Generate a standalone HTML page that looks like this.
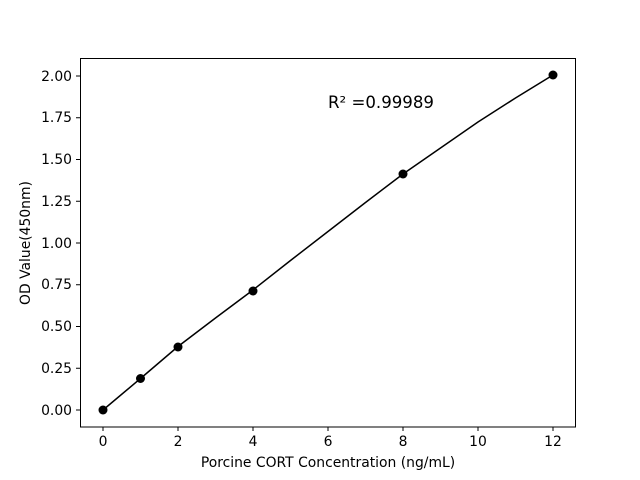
<!DOCTYPE html>
<html><head><meta charset="utf-8"><style>body{margin:0;background:#fff}svg{display:block}text{font-family:"DejaVu Sans","Liberation Sans",sans-serif;font-size:13.9px;fill:#000}</style></head>
<body>
<svg width="640" height="480" viewBox="0 0 640 480" xmlns="http://www.w3.org/2000/svg">
<rect x="80.5" y="58.5" width="495" height="368.5" fill="none" stroke="#000" stroke-width="1"/>
<g stroke="#000" stroke-width="1">
<line x1="103" y1="427" x2="103" y2="431"/><line x1="178" y1="427" x2="178" y2="431"/><line x1="253" y1="427" x2="253" y2="431"/><line x1="328" y1="427" x2="328" y2="431"/><line x1="403" y1="427" x2="403" y2="431"/><line x1="478" y1="427" x2="478" y2="431"/><line x1="553" y1="427" x2="553" y2="431"/>
<line x1="76" y1="410" x2="80" y2="410"/><line x1="76" y1="368.25" x2="80" y2="368.25"/><line x1="76" y1="326.5" x2="80" y2="326.5"/><line x1="76" y1="284.75" x2="80" y2="284.75"/><line x1="76" y1="243" x2="80" y2="243"/><line x1="76" y1="201.25" x2="80" y2="201.25"/><line x1="76" y1="159.5" x2="80" y2="159.5"/><line x1="76" y1="117.75" x2="80" y2="117.75"/><line x1="76" y1="76" x2="80" y2="76"/>
</g>
<g text-anchor="middle">
<text x="103" y="446">0</text><text x="178" y="446">2</text><text x="253" y="446">4</text><text x="328" y="446">6</text><text x="403" y="446">8</text><text x="478" y="446">10</text><text x="553" y="446">12</text>
</g>
<g text-anchor="end">
<text x="72" y="415">0.00</text><text x="72" y="373">0.25</text><text x="72" y="331">0.50</text><text x="72" y="289">0.75</text><text x="72" y="248">1.00</text><text x="72" y="206">1.25</text><text x="72" y="164">1.50</text><text x="72" y="122">1.75</text><text x="72" y="81">2.00</text>
</g>
<text x="328" y="467" text-anchor="middle">Porcine CORT Concentration (ng/mL)</text>
<text transform="translate(30,243) rotate(-90)" text-anchor="middle">OD Value(450nm)</text>
<text x="328" y="108" style="font-size:16.6px">R² =0.99989</text>
<polyline fill="none" stroke="#000" stroke-width="1.5" points="103,410 140.5,378.5 178,346.5 215.5,318 253,290 290.5,260.5 328,231.5 365.5,202.5 403,174 440.5,148 478,122 515.5,98 553,75"/>
<g fill="#000">
<circle cx="103" cy="410" r="4.5"/><circle cx="140.5" cy="378.5" r="4.5"/><circle cx="178" cy="347" r="4.5"/><circle cx="253" cy="291" r="4.5"/><circle cx="403" cy="174" r="4.5"/><circle cx="553" cy="75" r="4.5"/>
</g>
</svg>
</body></html>
